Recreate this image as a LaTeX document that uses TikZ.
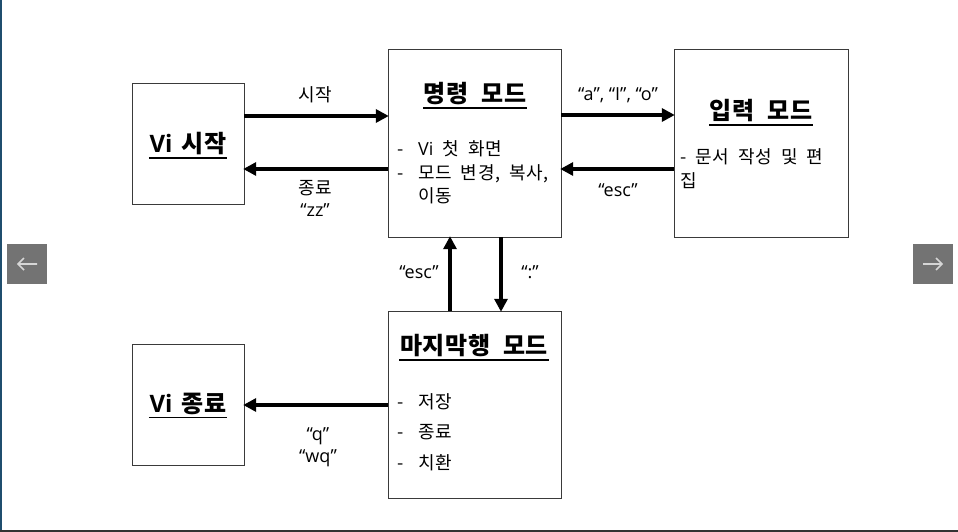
\documentclass[tikz,border=0pt]{standalone}
\usepackage{fontspec}
\setmainfont{Noto Sans CJK KR}[LetterSpace=3, WordSpace=2]
\newfontfamily\lat{Open Sans}
\usetikzlibrary{arrows.meta}
\definecolor{frameblue}{HTML}{1F4E6E}
\definecolor{navgray}{HTML}{737373}
\definecolor{navarrow}{HTML}{D6D6D6}
\definecolor{boxline}{HTML}{3A3A3A}
\tikzset{
  modebox/.style={draw=boxline, line width=0.9pt, fill=white},
  title/.style={font=\bfseries\fontsize{24}{28}\selectfont, inner sep=0pt},
  uline/.style={line width=1.6pt, shorten <=-0.5pt, shorten >=-0.5pt},
  item/.style={font=\fontsize{18}{21}\selectfont, inner sep=0pt, anchor=base west},
  lbl/.style={font=\fontsize{18}{21}\selectfont, inner sep=0pt},
  flow/.style={line width=3.6pt, -{Triangle[length=13pt,width=13pt]}, shorten >=-1pt},
  navbtn/.style={fill=navgray, draw=none},
  navtip/.style={draw=navarrow, line width=1.6pt}
}
\begin{document}
\begin{tikzpicture}[x=1pt,y=-1pt]
  \useasboundingbox (0,0) rectangle (958,532);
  \fill[white] (0,0) rectangle (958,532);
  % page frame
  \fill[frameblue] (0,0) rectangle (1.6,532);
  \fill[black!80] (0,529.5) rectangle (958,532);

  % mode boxes
  \draw[modebox] (132,83) rectangle (244,204);
  \node[inner sep=0pt, minimum width=112pt, minimum height=121pt] (vistart) at (188,143.5) {};
  \draw[modebox] (388,49) rectangle (561,237);
  \node[inner sep=0pt, minimum width=173pt, minimum height=188pt] (cmd) at (474.5,143) {};
  \draw[modebox] (674,49) rectangle (848,237);
  \node[inner sep=0pt, minimum width=174pt, minimum height=188pt] (ins) at (761,143) {};
  \draw[modebox] (388,311) rectangle (561,498);
  \node[inner sep=0pt, minimum width=173pt, minimum height=187pt] (last) at (474.5,404.5) {};
  \draw[modebox] (132,344) rectangle (244,465);
  \node[inner sep=0pt, minimum width=112pt, minimum height=121pt] (viend) at (188,404.5) {};

  % titles, each underlined
  \node[title] (t1) at (188,144) {{\lat Vi}\hspace{9pt}시작};
  \node[title] (t2) at (475,94) {명령 모드};
  \node[title] (t3) at (761,111) {입력 모드};
  \node[title] (t4) at (474,346) {마지막행 모드};
  \node[title] (t5) at (188,404) {{\lat Vi}\hspace{9pt}종료};
  \foreach \t in {t1,t2,t3,t4,t5}
    \draw[uline] ([yshift=-2.5pt]\t.south west) -- ([yshift=-2.5pt]\t.south east);

  % command mode items
  \node[item] (c1) at (397,156) {\makebox[21pt][l]{-}{\lat Vi}\hspace{9pt}첫 화면};
  \node[item] (c2) at (397,179) {\makebox[21pt][l]{-}모드 변경, 복사,};
  \node[item] (c3) at (418,202) {이동};
  % insert mode items
  \node[item] (i1) at (680,164) {- 문서 작성 및 편};
  \node[item] (i2) at (680,187) {집};
  % last line mode items
  \node[item] (l1) at (397,408) {\makebox[21pt][l]{-}저장};
  \node[item] (l2) at (397,438) {\makebox[21pt][l]{-}종료};
  \node[item] (l3) at (397,469) {\makebox[21pt][l]{-}치환};

  % transitions
  \coordinate (a1s) at (vistart.east |- 0,116);
  \coordinate (a1e) at (cmd.west |- 0,116);
  \draw[flow] (a1s) -- (a1e);
  \coordinate (a2s) at (cmd.west |- 0,169);
  \coordinate (a2e) at (vistart.east |- 0,169);
  \draw[flow] (a2s) -- (a2e);
  \coordinate (a3s) at (cmd.east |- 0,115);
  \coordinate (a3e) at (ins.west |- 0,115);
  \draw[flow] (a3s) -- (a3e);
  \coordinate (a4s) at (ins.west |- 0,169);
  \coordinate (a4e) at (cmd.east |- 0,169);
  \draw[flow] (a4s) -- (a4e);
  \coordinate (a5s) at (450,0 |- last.north);
  \coordinate (a5e) at (450,0 |- cmd.south);
  \draw[flow] (a5s) -- (a5e);
  \coordinate (a6s) at (501,0 |- cmd.south);
  \coordinate (a6e) at (501,0 |- last.north);
  \draw[flow] (a6s) -- (a6e);
  \coordinate (a7s) at (last.west |- 0,405);
  \coordinate (a7e) at (viend.east |- 0,405);
  \draw[flow] (a7s) -- (a7e);

  % transition labels
  \node[lbl] (k1) at (315,95) {시작};
  \node[lbl] (k2) at (315,188) {종료};
  \node[lbl] (k3) at (315,210) {\lat “zz”};
  \node[lbl] (k4) at (618,95) {\lat “a”, “I”, “o”};
  \node[lbl] (k5) at (618,190) {\lat “esc”};
  \node[lbl] (k6) at (419,272) {\lat “esc”};
  \node[lbl] (k7) at (530,272) {\lat “:”};
  \node[lbl] (k8) at (318,436) {\lat “q”};
  \node[lbl] (k9) at (318,458) {\lat “wq”};

  % slide navigation buttons
  \node[navbtn, minimum size=40pt, inner sep=0pt] (prev) at (27,264) {};
  \draw[navtip] (37,264) -- (18,264) (24,258) -- (18,264) -- (24,270);
  \node[navbtn, minimum size=40pt, inner sep=0pt] (next) at (933,264) {};
  \draw[navtip] (923,264) -- (942,264) (936,258) -- (942,264) -- (936,270);
\end{tikzpicture}
\end{document}
